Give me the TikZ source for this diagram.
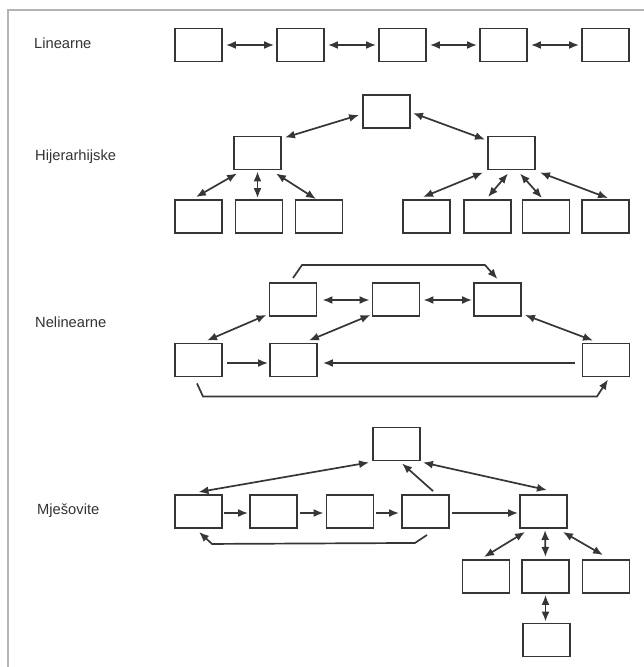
\documentclass[tikz,border=0pt]{standalone}
\usepackage{fontspec}
\setmainfont{Liberation Sans}
\usetikzlibrary{arrows.meta,calc}
\definecolor{ink}{HTML}{363636}
\definecolor{txt}{HTML}{333333}
\definecolor{rule}{HTML}{B4B4B4}
\begin{document}
\begin{tikzpicture}[x=1pt,y=-1pt,
  box/.style={draw=ink,line width=1.9pt,fill=white,minimum width=47pt,minimum height=33pt,inner sep=0pt},
  lbl/.style={anchor=west,inner sep=0pt,text=txt,font=\fontsize{14.7}{17}\selectfont},
  link/.style={draw=ink,line width=1.7pt},
  tip/.tip={Latex[length=10pt,width=8pt]},
  one/.style={link,-tip},
  both/.style={link,tip-tip}]
\useasboundingbox (0,0) rectangle (644,667);
\fill[white] (0,0) rectangle (644,667);
% outer frame (top and left edges)
\draw[rule,line width=1.8pt] (644,10) -- (8,10) -- (8,667);

% ---------- Linearne ----------
\node[lbl] (tLin) at (34,43) {Linearne};
\node[box] (a1) at (198.5,45) {};
\node[box] (a2) at (300.5,45) {};
\node[box] (a3) at (402.5,45) {};
\node[box] (a4) at (503.5,45) {};
\node[box] (a5) at (605.5,45) {};
\draw[both] ($(a1.east)+(3,0)$) -- ($(a2.west)+(-2,0)$);
\draw[both] ($(a2.east)+(3,0)$) -- ($(a3.west)+(-2,0)$);
\draw[both] ($(a3.east)+(3,0)$) -- ($(a4.west)+(-2,0)$);
\draw[both] ($(a4.east)+(3,0)$) -- ($(a5.west)+(-2,0)$);

% ---------- Hijerarhijske ----------
\node[lbl] (tHij) at (35,157) {Hijerarhijske};
\node[box] (r)  at (386.5,111.5) {};
\node[box] (l)  at (257.5,153) {};
\node[box] (rr) at (511.5,153) {};
\node[box] (c1) at (198.5,216.5) {};
\node[box] (c2) at (259,216.5) {};
\node[box] (c3) at (319,216.5) {};
\node[box] (d1) at (426.5,216.5) {};
\node[box] (d2) at (487.5,216.5) {};
\node[box] (d3) at (546,216.5) {};
\node[box] (d4) at (605.5,216.5) {};
\draw[both] ($(r.west)+(-3,3.5)$) -- ($(l.north east)+(3,2)$);
\draw[both] ($(r.east)+(2,1.5)$) -- ($(rr.north west)+(-2,4)$);
\draw[both] ($(l.south west)+(4,3)$) -- ($(c1.north)+(-2.5,-2)$);
\draw[both] ($(l.south)+(0,1)$) -- ($(l.south|-c2.north)+(0,-1)$);
\draw[both] ($(l.south east)+(-6,3)$) -- ($(c3.north)+(-3,0)$);
\draw[both] ($(rr.south west)+(-4,2)$) -- ($(d1.north)+(-3.5,-2)$);
\draw[both] ($(rr.south)+(-3.5,3)$) -- ($(d2.north)+(0.5,-2)$);
\draw[both] ($(rr.south)+(8.5,3)$) -- ($(d3.north)+(-4,-1)$);
\draw[both] ($(rr.south east)+(4,2)$) -- ($(d4.north)+(2.5,-1)$);

% ---------- Nelinearne ----------
\node[lbl] (tNel) at (35,322) {Nelinearne};
\node[box] (nA) at (293,299.5) {};
\node[box] (nB) at (396,299.5) {};
\node[box] (nC) at (497.5,299.5) {};
\node[box] (nD) at (198.5,360) {};
\node[box] (nE) at (293.5,360) {};
\node[box] (nF) at (606,360) {};
\draw[both] ($(nA.east)+(5,0.5)$) -- ($(nB.west)+(-2,0.5)$);
\draw[both] ($(nB.east)+(3,0.5)$) -- ($(nC.west)+(-1,0.5)$);
\draw[both] ($(nA.south west)+(-2,-2)$) -- ($(nD.north)+(8.5,-2)$);
\draw[both] ($(nB.south west)+(-1,-2)$) -- ($(nE.north east)+(-9,-2)$);
\draw[both] ($(nC.south east)+(3,-2)$) -- ($(nF.north)+(-13,-2)$);
\draw[one] ($(nD.east)+(4,3)$) -- ($(nE.west)+(-1,3)$);
\draw[one] ($(nF.west)+(-7,3)$) -- ($(nE.east)+(5,3)$);
\draw[one] ($(nA.north)+(0,-4)$) -- ($(nA.north)+(9,-17)$)
  -- ($(nC.north)+(-12.5,-17)$) -- ($(nC.north)+(0,-3)$);
\draw[one] ($(nD.south)+(-1.5,6)$) -- ($(nD.south)+(4.5,19)$)
  -- ($(nF.south)+(-9,19)$) -- ($(nF.south)+(2,2)$);

% ---------- Mjesovite ----------
\node[lbl] (tMje) at (37,511) {Mješovite};
\node[box] (mG) at (396.5,444) {};
\node[box] (mH) at (198.5,511.5) {};
\node[box] (mI) at (273.5,511.5) {};
\node[box] (mJ) at (350,511.5) {};
\node[box] (mK) at (425.5,511.5) {};
\node[box] (mL) at (543.5,511.5) {};
\node[box] (mM) at (486,576.5) {};
\node[box] (mN) at (545.5,576.5) {};
\node[box] (mO) at (606,576.5) {};
\node[box] (mP) at (546.5,640) {};
\draw[both] ($(mG.south west)+(-3,1)$) -- ($(mH.north)+(0,-2)$);
\draw[one] ($(mK.north)+(7.5,-3)$) -- ($(mG.south)+(5.5,2)$);
\draw[both] ($(mG.south east)+(2,1)$) -- ($(mL.north)+(3.5,-4)$);
\draw[one] ($(mH.east)+(1,1.5)$) -- ($(mI.west)+(-1,1.5)$);
\draw[one] ($(mI.east)+(2,1.5)$) -- ($(mJ.west)+(-2,1.5)$);
\draw[one] ($(mJ.east)+(2,1.5)$) -- ($(mK.west)+(-2,1.5)$);
\draw[one] ($(mK.east)+(2,1.5)$) -- ($(mL.west)+(-1,1.5)$);
\draw[one] ($(mK.south)+(1.5,6)$) -- ($(mK.south)+(-10.5,14)$)
  -- ($(mH.south)+(13.5,15)$) -- ($(mH.south)+(0.5,3)$);
\draw[both] ($(mL.south west)+(6,3)$) -- ($(mM.north)+(-2,-2)$);
\draw[both] ($(mL.south)+(1.5,1)$) -- ($(mL.south-|mN.north)+(0,28)$);
\draw[both] ($(mL.south east)+(-5,3)$) -- ($(mO.north)+(-3,-4)$);
\draw[both] ($(mN.south)+(0,1)$) -- ($(mN.south|-mP.north)+(0,-1)$);
\end{tikzpicture}
\end{document}
